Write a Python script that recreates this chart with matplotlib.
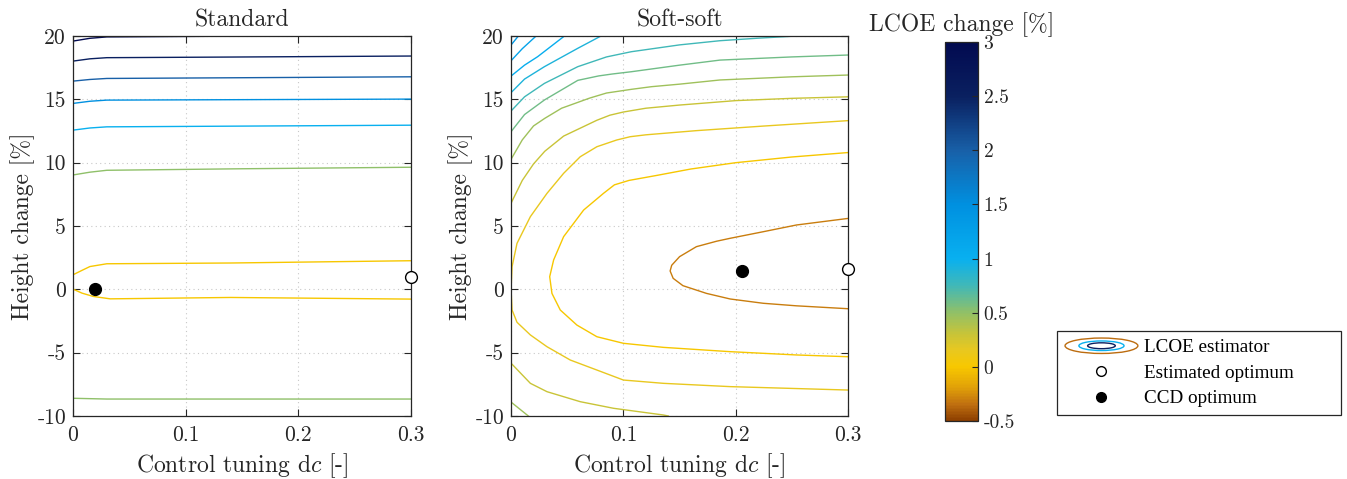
import matplotlib
matplotlib.use('Agg')
import matplotlib.pyplot as plt
from matplotlib.colors import LinearSegmentedColormap, Normalize
from matplotlib.cm import ScalarMappable
from matplotlib.patches import Ellipse
from matplotlib.legend_handler import HandlerBase
from matplotlib.lines import Line2D

plt.rcParams['font.family'] = 'cmr10'
plt.rcParams['mathtext.fontset'] = 'cm'
plt.rcParams['axes.unicode_minus'] = False
plt.rcParams['axes.formatter.use_mathtext'] = True

# colour scale of the LCOE change
cmap_vals = [-0.5, -0.35, -0.2, 0.0, 0.15, 0.3, 0.5, 0.75, 1.0, 1.5, 2.0, 2.5, 3.0]
cmap_cols = ['#8c3e00', '#c07010', '#e0a008', '#f8c800', '#e8c820', '#c8c438',
             '#90c068', '#40b8b8', '#08b0f0', '#0090e0', '#1860a8', '#0a2060', '#020a50']

# Standard: contour lines (level, dc, height)
std_levels = [3.0, 2.5, 2.0, 1.5, 1.0, 0.5, 0.5, 0.0, 0.0]
std_dc = [
    [0, 0.015, 0.03, 0.163],
    [0, 0.015, 0.03, 0.14, 0.3],
    [0, 0.015, 0.03, 0.3],
    [0, 0.015, 0.03, 0.3],
    [0, 0.015, 0.03, 0.3],
    [0, 0.015, 0.03, 0.15, 0.3],
    [0, 0.03, 0.3],
    [0, 0.008, 0.015, 0.03, 0.14, 0.3],
    [0, 0.008, 0.018, 0.033, 0.14, 0.3],
]
std_h = [
    [19.6, 19.82, 19.93, 20.0],
    [18.02, 18.2, 18.29, 18.34, 18.42],
    [16.44, 16.57, 16.65, 16.78],
    [14.68, 14.85, 14.94, 15.02],
    [12.57, 12.74, 12.83, 12.96],
    [9.03, 9.25, 9.4, 9.52, 9.64],
    [-8.6, -8.66, -8.66],
    [1.15, 1.5, 1.8, 2.02, 2.08, 2.26],
    [0.02, -0.3, -0.56, -0.75, -0.64, -0.77],
]

# Soft-soft: contour lines (level, dc, height)
soft_levels = [-0.3, 0.0, 0.15, 0.15, 0.3, 0.3, 0.45, 0.45, 0.6, 0.75, 0.9, 1.05, 1.2, 1.35]
soft_dc = [
    [0.3, 0.254, 0.2245, 0.195, 0.183, 0.165, 0.15, 0.143, 0.1416, 0.1443, 0.153, 0.174, 0.195, 0.2245, 0.254, 0.3],
    [0.3, 0.25, 0.2, 0.16, 0.13, 0.105, 0.092, 0.0823, 0.0646, 0.0468, 0.0379, 0.0344, 0.0364, 0.0438, 0.0586,
     0.0764, 0.1, 0.1356, 0.195, 0.254, 0.3],
    [0.3, 0.2245, 0.165, 0.12, 0.106, 0.094, 0.0764, 0.0616, 0.0468, 0.032, 0.0172, 0.0053, 0.0009, 0.0],
    [0.0, 0.0009, 0.0053, 0.0172, 0.032, 0.0527, 0.0764, 0.1, 0.1356, 0.195, 0.3],
    [0.0, 0.01, 0.02, 0.03, 0.0468, 0.0764, 0.088, 0.1, 0.12, 0.15, 0.2, 0.25, 0.3],
    [0.0, 0.0172, 0.032, 0.0616, 0.0912, 0.1356, 0.14],
    [0.0, 0.01, 0.02, 0.03, 0.045, 0.07, 0.085, 0.107, 0.125, 0.15, 0.186, 0.25, 0.3],
    [0.0, 0.0154],
    [0.0, 0.012, 0.0297, 0.0594, 0.078, 0.09, 0.107, 0.15, 0.186, 0.25, 0.3],
    [0.0, 0.012, 0.0297, 0.0594, 0.085, 0.107, 0.15, 0.186, 0.22, 0.254],
    [0.0, 0.012, 0.0297, 0.0594, 0.08],
    [0.0, 0.012, 0.0237, 0.0475],
    [0.0, 0.01, 0.0223],
    [0.0, 0.0065],
]
soft_h = [
    [5.6, 5.08, 4.55, 4.03, 3.8, 3.37, 2.58, 1.9, 1.45, 0.87, 0.29, -0.32, -0.76, -1.1, -1.3, -1.53],
    [10.8, 10.45, 10.0, 9.5, 9.0, 8.6, 8.25, 7.58, 6.26, 4.16, 2.32, 1.0, -0.32, -1.63, -2.82, -3.74,
     -4.26, -4.58, -4.92, -5.18, -5.32],
    [13.32, 12.89, 12.53, 12.2, 12.05, 11.79, 11.26, 10.47, 9.16, 7.58, 5.74, 3.63, 1.79, 0.0],
    [0.0, -1.63, -2.6, -3.6, -4.53, -5.58, -6.37, -7.16, -7.42, -7.68, -7.95],
    [6.8, 8.6, 9.9, 10.9, 12.1, 13.35, 13.75, 14.0, 14.3, 14.55, 14.9, 15.08, 15.2],
    [-5.83, -7.42, -8.08, -8.87, -9.39, -9.92, -10.0],
    [10.27, 11.8, 12.9, 13.5, 14.3, 15.1, 15.5, 15.79, 16.0, 16.2, 16.53, 16.78, 16.92],
    [-8.9, -10.0],
    [12.45, 13.8, 14.95, 16.5, 16.85, 17.0, 17.18, 17.7, 18.1, 18.35, 18.5],
    [14.08, 15.2, 16.26, 17.58, 18.35, 18.76, 19.3, 19.63, 19.83, 20.0],
    [15.53, 16.6, 17.58, 19.03, 20.0],
    [16.84, 17.7, 18.37, 20.0],
    [18.05, 19.0, 20.0],
    [19.29, 20.0],
]

# optima
std_ccd = (0.0193, 0.0)
std_est = (0.3, 1.0)
soft_ccd = (0.2058, 1.45)
soft_est = (0.3, 1.6)

titles = ['Standard', 'Soft-soft']
xticks = [0, 0.1, 0.2, 0.3]
xticklabels = ['0', '0.1', '0.2', '0.3']
yticks = [-10, -5, 0, 5, 10, 15, 20]
yticklabels = ['-10', '-5', '0', '5', '10', '15', '20']
cb_ticks = [-0.5, 0, 0.5, 1, 1.5, 2, 2.5, 3]
cb_labels = ['-0.5', '0', '0.5', '1', '1.5', '2', '2.5', '3']

norm = Normalize(-0.5, 3.0)
cmap = LinearSegmentedColormap.from_list(
    'lcoe', [((v - cmap_vals[0]) / (cmap_vals[-1] - cmap_vals[0]), c) for v, c in zip(cmap_vals, cmap_cols)])

fig = plt.figure(figsize=(13.47, 4.79), dpi=100)
ax1 = fig.add_axes([0.0542, 0.1315, 0.2509, 0.7933])
ax2 = fig.add_axes([0.3794, 0.1315, 0.2502, 0.7933])

panels = [(ax1, std_levels, std_dc, std_h, std_ccd, std_est),
          (ax2, soft_levels, soft_dc, soft_h, soft_ccd, soft_est)]

for i, (ax, levels, xs, ys, ccd, est) in enumerate(panels):
    for lev, x, y in zip(levels, xs, ys):
        ax.plot(x, y, color=cmap(norm(lev)), lw=1.0, clip_on=True)
    ax.plot(ccd[0], ccd[1], 'o', color='k', ms=8.5, zorder=5)
    ax.plot(est[0], est[1], 'o', mfc='white', mec='k', mew=1.0, ms=8.5, zorder=5, clip_on=False)
    ax.set_xlim(0, 0.3)
    ax.set_ylim(-10, 20)
    ax.set_xticks(xticks)
    ax.set_xticklabels(xticklabels)
    ax.set_yticks(yticks)
    ax.set_yticklabels(yticklabels)
    ax.tick_params(direction='in', length=5, width=0.8, top=True, right=True,
                   labelsize=15.5, colors='#262626', labelcolor='#262626')
    ax.tick_params(axis='x', pad=7)
    ax.tick_params(axis='y', pad=5)
    ax.grid(True, ls=(0, (1, 3)), color='#c8c8c8', lw=0.8)
    ax.set_axisbelow(True)
    for s in ax.spines.values():
        s.set_color('#262626')
        s.set_linewidth(0.9)
    ax.set_title(titles[i], fontsize=17, pad=7, color='#262626')
    ax.set_xlabel('Control tuning d$c$ [-]', fontsize=17, labelpad=4, color='#262626')
    ax.set_ylabel('Height change [%]', fontsize=17, labelpad=2, color='#262626')

# colorbar
cax = fig.add_axes([0.7016, 0.1211, 0.0245, 0.7912])
sm = ScalarMappable(norm=norm, cmap=cmap)
cb = fig.colorbar(sm, cax=cax, ticks=cb_ticks)
cb.set_ticklabels(cb_labels)
cax.tick_params(direction='in', length=4, width=0.8, labelsize=14, colors='#262626', pad=4)
cb.outline.set_edgecolor('#262626')
cb.outline.set_linewidth(0.9)
cax.set_title('LCOE change [%]', fontsize=17, pad=8, color='#262626')


class EllipseHandler(HandlerBase):
    def create_artists(self, legend, orig_handle, xdescent, ydescent, width, height, fontsize, trans):
        cx = 0.5 * width - xdescent
        cy = 0.5 * height - ydescent
        arts = []
        for f, lev in zip([1.0, 0.62, 0.38], [-0.35, 1.0, 2.5]):
            e = Ellipse((cx, cy), width * f, height * 1.15 * f, fill=False,
                        edgecolor=cmap(norm(lev)), lw=1.0, transform=trans)
            arts.append(e)
        return arts


h_est = Line2D([], [], ls='none', marker='o', mfc='white', mec='k', ms=7)
h_ccd = Line2D([], [], ls='none', marker='o', color='k', ms=7)
h_lcoe = Line2D([], [])
leg = fig.legend([h_lcoe, h_est, h_ccd], ['LCOE estimator', 'Estimated optimum', 'CCD optimum'],
                 handler_map={h_lcoe: EllipseHandler()},
                 loc='upper left', bbox_to_anchor=(0.7847, 0.1336, 0.2108, 0.1754), mode='expand',
                 fancybox=False, edgecolor='#262626', framealpha=1, borderaxespad=0,
                 handlelength=3.8, handletextpad=0.3, labelspacing=0.42, borderpad=0.42,
                 prop={'family': 'Liberation Serif', 'size': 13.8})
leg.get_frame().set_linewidth(0.9)

fig.savefig('out.png', dpi=100)
